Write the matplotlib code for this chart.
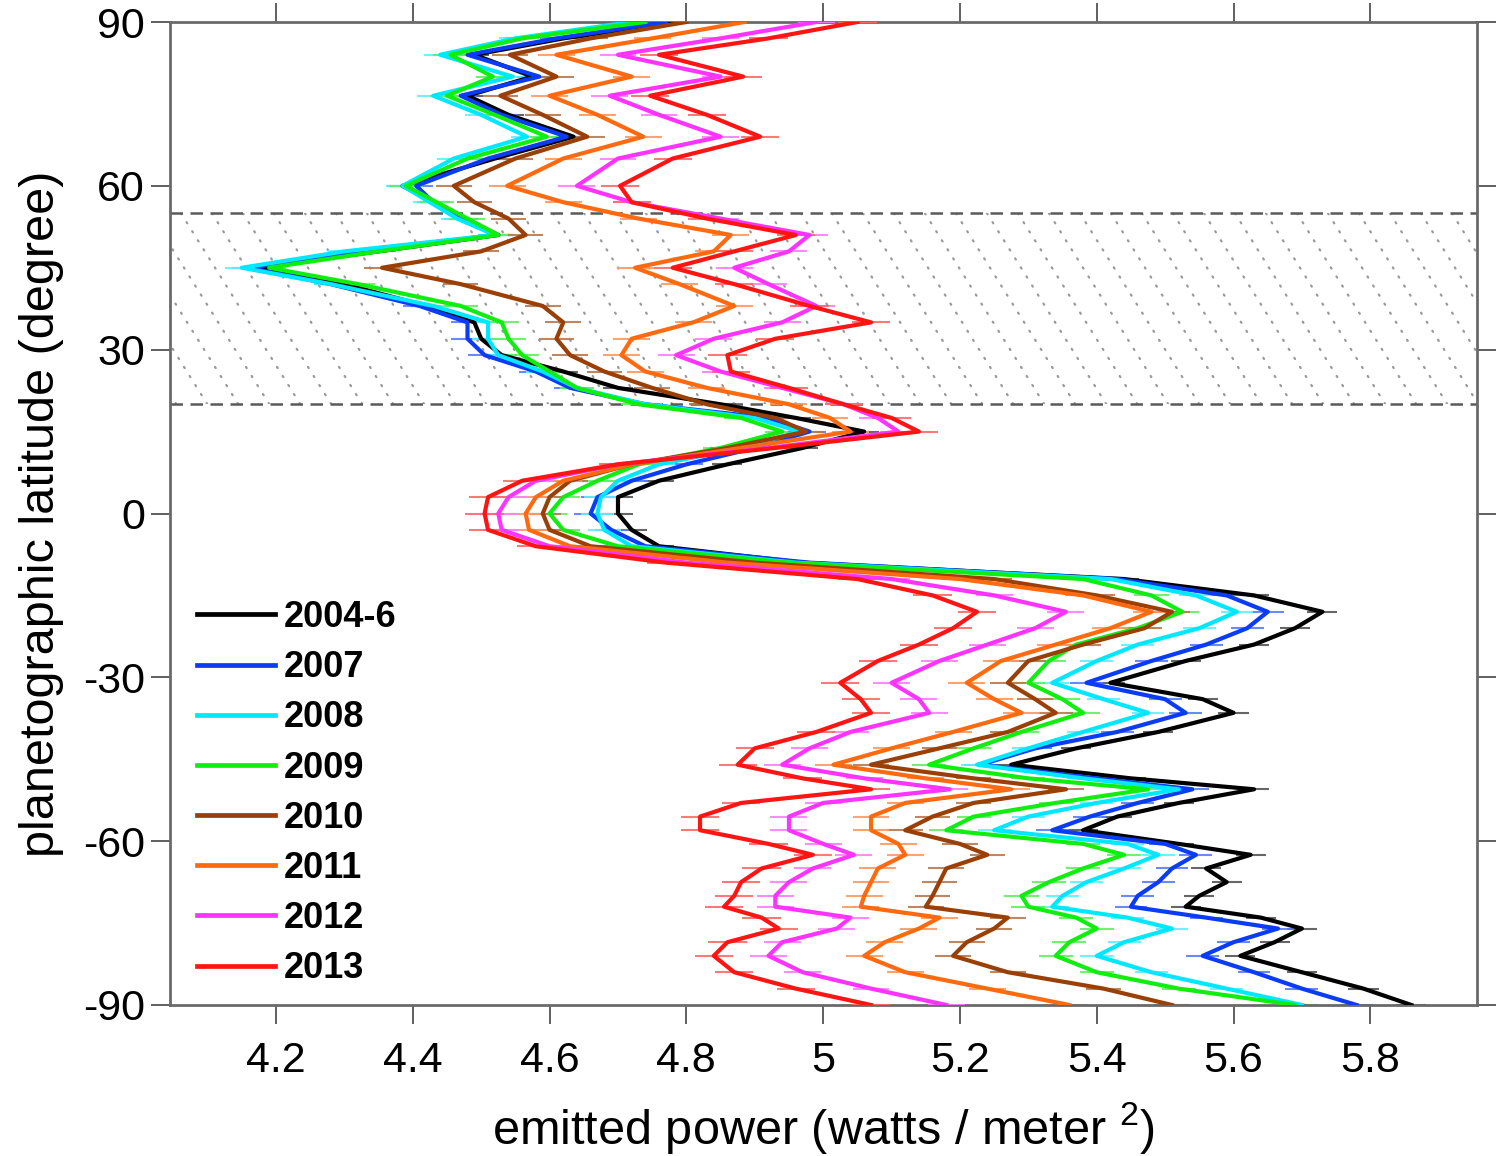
import matplotlib
matplotlib.use("Agg")
import matplotlib.pyplot as plt
from matplotlib.lines import Line2D
import numpy as np

plt.rcParams['font.family'] = ['Liberation Sans', 'DejaVu Sans']
plt.rcParams['axes.unicode_minus'] = False

# latitude grid (degrees, north positive)
lat = [90, 87, 84, 80, 76.5, 73, 69, 65, 60, 57, 54, 51, 48, 45, 42, 38, 35, 32, 29, 26,
       23, 20, 17.5, 15, 12, 9, 6, 3, 0, -3, -6, -9, -12, -15, -18, -21, -24, -27, -31,
       -34, -36.5, -40, -43, -46, -48.5, -50.5, -53, -55.5, -58, -60.5, -62.5, -65, -67.5,
       -70, -72, -74, -76, -78.5, -81, -84, -87, -90]

years = ["2004-6", "2007", "2008", "2009", "2010", "2011", "2012", "2013"]

p_2004_6 = [4.79, 4.62, 4.49, 4.575, 4.48, 4.54, 4.635, 4.52, 4.385, 4.43, 4.475, 4.525, 4.35, 4.17,
            4.30, 4.42, 4.49, 4.50, 4.53, 4.62, 4.70, 4.85, 4.96, 5.06, 4.97, 4.86, 4.76, 4.70,
            4.70, 4.72, 4.76, 4.97, 5.44, 5.63, 5.73, 5.69, 5.63, 5.53, 5.42, 5.555, 5.60, 5.49,
            5.37, 5.275, 5.45, 5.63, 5.52, 5.43, 5.38, 5.52, 5.625, 5.56, 5.59, 5.55, 5.53, 5.64,
            5.70, 5.66, 5.61, 5.70, 5.79, 5.86]
p_2007 = [4.77, 4.61, 4.48, 4.585, 4.47, 4.53, 4.625, 4.51, 4.405, 4.43, 4.47, 4.52, 4.33, 4.16,
          4.28, 4.41, 4.48, 4.48, 4.505, 4.58, 4.63, 4.74, 4.92, 4.98, 4.90, 4.80, 4.72, 4.67,
          4.66, 4.69, 4.74, 4.98, 5.43, 5.59, 5.65, 5.62, 5.56, 5.48, 5.385, 5.50, 5.53, 5.43,
          5.31, 5.23, 5.40, 5.54, 5.46, 5.39, 5.335, 5.50, 5.545, 5.51, 5.49, 5.46, 5.45, 5.56,
          5.665, 5.60, 5.555, 5.63, 5.70, 5.78]
p_2008 = [4.72, 4.55, 4.44, 4.546, 4.43, 4.50, 4.567, 4.46, 4.385, 4.425, 4.465, 4.52, 4.30, 4.15,
          4.28, 4.43, 4.51, 4.51, 4.525, 4.59, 4.64, 4.74, 4.90, 4.965, 4.88, 4.76, 4.70, 4.675,
          4.67, 4.68, 4.72, 4.96, 5.42, 5.545, 5.605, 5.55, 5.46, 5.40, 5.335, 5.41, 5.475, 5.38,
          5.30, 5.225, 5.38, 5.52, 5.40, 5.30, 5.25, 5.445, 5.49, 5.44, 5.385, 5.35, 5.335, 5.445,
          5.51, 5.44, 5.40, 5.48, 5.59, 5.70]
p_2009 = [4.74, 4.56, 4.455, 4.517, 4.45, 4.52, 4.596, 4.48, 4.39, 4.435, 4.48, 4.525, 4.35, 4.19,
          4.32, 4.47, 4.53, 4.54, 4.56, 4.60, 4.64, 4.73, 4.88, 4.94, 4.85, 4.73, 4.67, 4.62,
          4.60, 4.62, 4.70, 4.95, 5.38, 5.48, 5.525, 5.46, 5.37, 5.33, 5.30, 5.35, 5.38, 5.29,
          5.22, 5.155, 5.30, 5.475, 5.34, 5.22, 5.18, 5.38, 5.44, 5.38, 5.33, 5.29, 5.30, 5.37,
          5.40, 5.36, 5.34, 5.40, 5.52, 5.69]
p_2010 = [4.80, 4.66, 4.542, 4.61, 4.528, 4.59, 4.655, 4.55, 4.46, 4.49, 4.54, 4.565, 4.50, 4.355,
          4.47, 4.59, 4.62, 4.61, 4.63, 4.68, 4.75, 4.83, 4.93, 4.975, 4.86, 4.72, 4.63, 4.60,
          4.59, 4.60, 4.66, 4.90, 5.25, 5.40, 5.51, 5.47, 5.38, 5.30, 5.27, 5.31, 5.34, 5.27,
          5.17, 5.07, 5.22, 5.355, 5.22, 5.16, 5.12, 5.20, 5.24, 5.18, 5.17, 5.16, 5.15, 5.27,
          5.25, 5.21, 5.19, 5.27, 5.41, 5.51]
p_2011 = [4.885, 4.75, 4.61, 4.72, 4.60, 4.67, 4.737, 4.62, 4.538, 4.62, 4.73, 4.865, 4.84, 4.725,
          4.79, 4.87, 4.81, 4.72, 4.705, 4.74, 4.83, 4.95, 5.01, 5.04, 4.88, 4.72, 4.62, 4.58,
          4.565, 4.57, 4.63, 4.86, 5.20, 5.38, 5.48, 5.42, 5.34, 5.26, 5.21, 5.25, 5.29, 5.19,
          5.10, 5.015, 5.15, 5.275, 5.12, 5.07, 5.07, 5.11, 5.12, 5.08, 5.07, 5.06, 5.055, 5.17,
          5.14, 5.09, 5.06, 5.12, 5.24, 5.36]
p_2012 = [4.99, 4.85, 4.70, 4.85, 4.688, 4.76, 4.85, 4.70, 4.64, 4.72, 4.85, 4.98, 4.95, 4.87,
          4.92, 4.99, 4.94, 4.84, 4.785, 4.85, 4.94, 5.03, 5.08, 5.11, 4.92, 4.70, 4.58, 4.54,
          4.525, 4.53, 4.60, 4.80, 5.10, 5.25, 5.355, 5.31, 5.24, 5.17, 5.10, 5.14, 5.155, 5.04,
          4.98, 4.94, 5.06, 5.185, 5.00, 4.95, 4.95, 5.00, 5.045, 4.985, 4.95, 4.93, 4.93, 5.04,
          5.02, 4.94, 4.92, 4.97, 5.07, 5.18]
p_2013 = [5.05, 4.92, 4.76, 4.883, 4.747, 4.83, 4.908, 4.78, 4.703, 4.72, 4.83, 4.96, 4.87, 4.78,
          4.87, 4.98, 5.07, 4.93, 4.86, 4.865, 4.95, 5.03, 5.10, 5.14, 4.93, 4.70, 4.56, 4.51,
          4.505, 4.51, 4.58, 4.77, 5.05, 5.16, 5.225, 5.19, 5.14, 5.08, 5.025, 5.055, 5.07, 4.99,
          4.90, 4.875, 4.97, 5.07, 4.88, 4.82, 4.82, 4.92, 4.985, 4.91, 4.88, 4.87, 4.855, 4.91,
          4.935, 4.86, 4.84, 4.87, 4.96, 5.07]

# half-width of the horizontal error bars (watts / m^2), estimated per series
err_half = [0.022, 0.024, 0.024, 0.025, 0.026, 0.027, 0.027, 0.028]

line_colors = ["#000000", "#0a3cf5", "#00e8ff", "#10ee10", "#9a3f06", "#ff6a10", "#ff33ff", "#ff1414"]
err_colors = ["#555555", "#5a7cff", "#60f0ff", "#60f060", "#b87a50", "#ff9a60", "#ff80ff", "#ff6a6a"]

series = [p_2004_6, p_2007, p_2008, p_2009, p_2010, p_2011, p_2012, p_2013]

x_ticks = [4.2, 4.4, 4.6, 4.8, 5.0, 5.2, 5.4, 5.6, 5.8]
x_ticklabels = ["4.2", "4.4", "4.6", "4.8", "5", "5.2", "5.4", "5.6", "5.8"]
y_ticks = [-90, -60, -30, 0, 30, 60, 90]
y_ticklabels = ["-90", "-60", "-30", "0", "30", "60", "90"]
band = (20, 55)

fig = plt.figure(figsize=(15, 11.56), dpi=100)
ax = fig.add_axes([170 / 1500, 1 - 1005 / 1156, 1307 / 1500, 983 / 1156])
ax.set_xlim(4.045, 5.956)
ax.set_ylim(-90, 90)

# hatched band with dotted diagonal lines
span = ax.axhspan(band[0], band[1], facecolor='none', edgecolor='none', zorder=0)
axw, axh = 1307.0, 983.0
band_top = (band[1] + 90) / 180.0
band_bot = (band[0] + 90) / 180.0
dy_px = (band_top - band_bot) * axh
dx_px = dy_px / np.tan(np.radians(58))
for x0 in np.arange(-0.3, 1.05, 31.0 / axw):
    ln, = ax.plot([x0, x0 + dx_px / axw], [band_top, band_bot], transform=ax.transAxes,
                  color='#9a9a9a', lw=1.6, ls=(0, (0.6, 4.2)), dash_capstyle='round', zorder=0.5)
    ln.set_clip_path(span)
for b in band:
    ax.axhline(b, color='#5a5a5a', lw=1.8, ls=(0, (5, 3)), zorder=1)

handles = []
for i, (yr, vals) in enumerate(zip(years, series)):
    ax.errorbar(vals, lat, xerr=err_half[i], fmt='none', ecolor=err_colors[i], elinewidth=1.5,
                capsize=0, alpha=0.9, zorder=2 + i * 0.1)
    ax.plot(vals, lat, color=line_colors[i], lw=3.0, zorder=3 + i * 0.1)
    handles.append(Line2D([], [], color=line_colors[i], lw=3.4, label=yr))

ax.set_xticks(x_ticks)
ax.set_xticklabels(x_ticklabels)
ax.set_yticks(y_ticks)
ax.set_yticklabels(y_ticklabels)
ax.tick_params(axis='both', which='major', direction='out', length=14, width=1.2,
               color='#444444', labelsize=31, top=True, right=True)
ax.tick_params(axis='x', pad=12)
ax.tick_params(axis='y', pad=4)
for s in ax.spines.values():
    s.set_color('#6a6a6a')
    s.set_linewidth(2.0)

ax.set_xlabel(r'emitted power (watts / meter $^{\mathregular{2}}$)', fontsize=35, labelpad=14)
ax.set_ylabel('planetographic latitude (degree)', fontsize=35, labelpad=14)

leg = ax.legend(handles=handles, loc='upper left', bbox_to_anchor=(0.021, 0.412), frameon=False,
                prop={'weight': 'bold', 'size': 26}, handlelength=2.15,
                handletextpad=0.25, labelspacing=0.42, borderpad=0, borderaxespad=0)

fig.savefig('out.png', dpi=100)
